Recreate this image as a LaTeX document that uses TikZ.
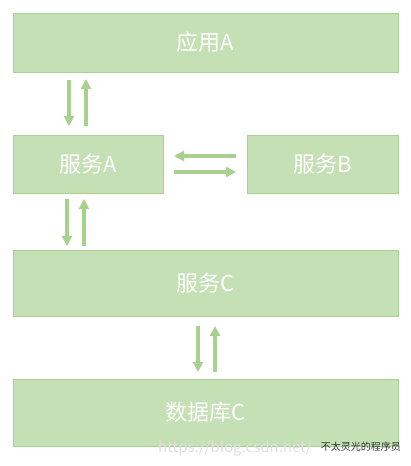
\documentclass[tikz,border=0pt]{standalone}
\usepackage{fontspec}
\newfontfamily\cjk{Noto Sans CJK SC}
\usetikzlibrary{arrows.meta}
\definecolor{boxfill}{HTML}{C5E0B4}
\definecolor{boxdraw}{HTML}{A9D18E}
\definecolor{arr}{HTML}{A9D18E}
\tikzset{
  box/.style={draw=boxdraw, line width=0.8pt, fill=boxfill, inner sep=0pt, text=white, font=\cjk\fontsize{22}{22}\selectfont},
  flow/.style={draw=arr, line width=3.6pt, -{Triangle[width=10pt,length=10pt]}, shorten >=0pt}
}
\begin{document}
\begin{tikzpicture}[x=1pt,y=-1pt]
\useasboundingbox (0,0) rectangle (411,466);
\fill[white] (0,0) rectangle (411,466);
% boxes
\node[box, minimum width=385pt, minimum height=59pt] (app) at (205.5,42.5) {应用A};
\node[box, minimum width=150pt, minimum height=58pt] (sa) at (88,164) {服务A};
\node[box, minimum width=151pt, minimum height=58pt] (sb) at (322.5,164) {服务B};
\node[box, minimum width=385pt, minimum height=66pt] (sc) at (205.5,283.5) {服务C};
\node[box, minimum width=385pt, minimum height=67pt] (db) at (205.5,412.5) {数据库C};
% coordinates for arrows
\coordinate (a1s) at (69,80);  \coordinate (a1e) at (69,126);
\coordinate (a2s) at (86,126); \coordinate (a2e) at (86,79);
\coordinate (b1s) at (67,199); \coordinate (b1e) at (67,246);
\coordinate (b2s) at (84,246); \coordinate (b2e) at (84,199);
\coordinate (h1s) at (236,156); \coordinate (h1e) at (174,156);
\coordinate (h2s) at (174,172); \coordinate (h2e) at (236,172);
\coordinate (c1s) at (198,326); \coordinate (c1e) at (198,372);
\coordinate (c2s) at (215,372); \coordinate (c2e) at (215,326);
\draw[flow] (a1s) -- (a1e);
\draw[flow] (a2s) -- (a2e);
\draw[flow] (b1s) -- (b1e);
\draw[flow] (b2s) -- (b2e);
\draw[flow] (h1s) -- (h1e);
\draw[flow] (h2s) -- (h2e);
\draw[flow] (c1s) -- (c1e);
\draw[flow] (c2s) -- (c2e);
% watermark
\node[anchor=west, text=gray!25, font=\cjk\fontsize{15}{15}\selectfont, inner sep=0pt] (wm) at (158,448) {https://blog.csdn.net/};
\node[anchor=east, text=black!80, font=\cjk\fontsize{10}{10}\selectfont, inner sep=0pt] (wm2) at (401,447) {不太灵光的程序员};
\end{tikzpicture}
\end{document}
